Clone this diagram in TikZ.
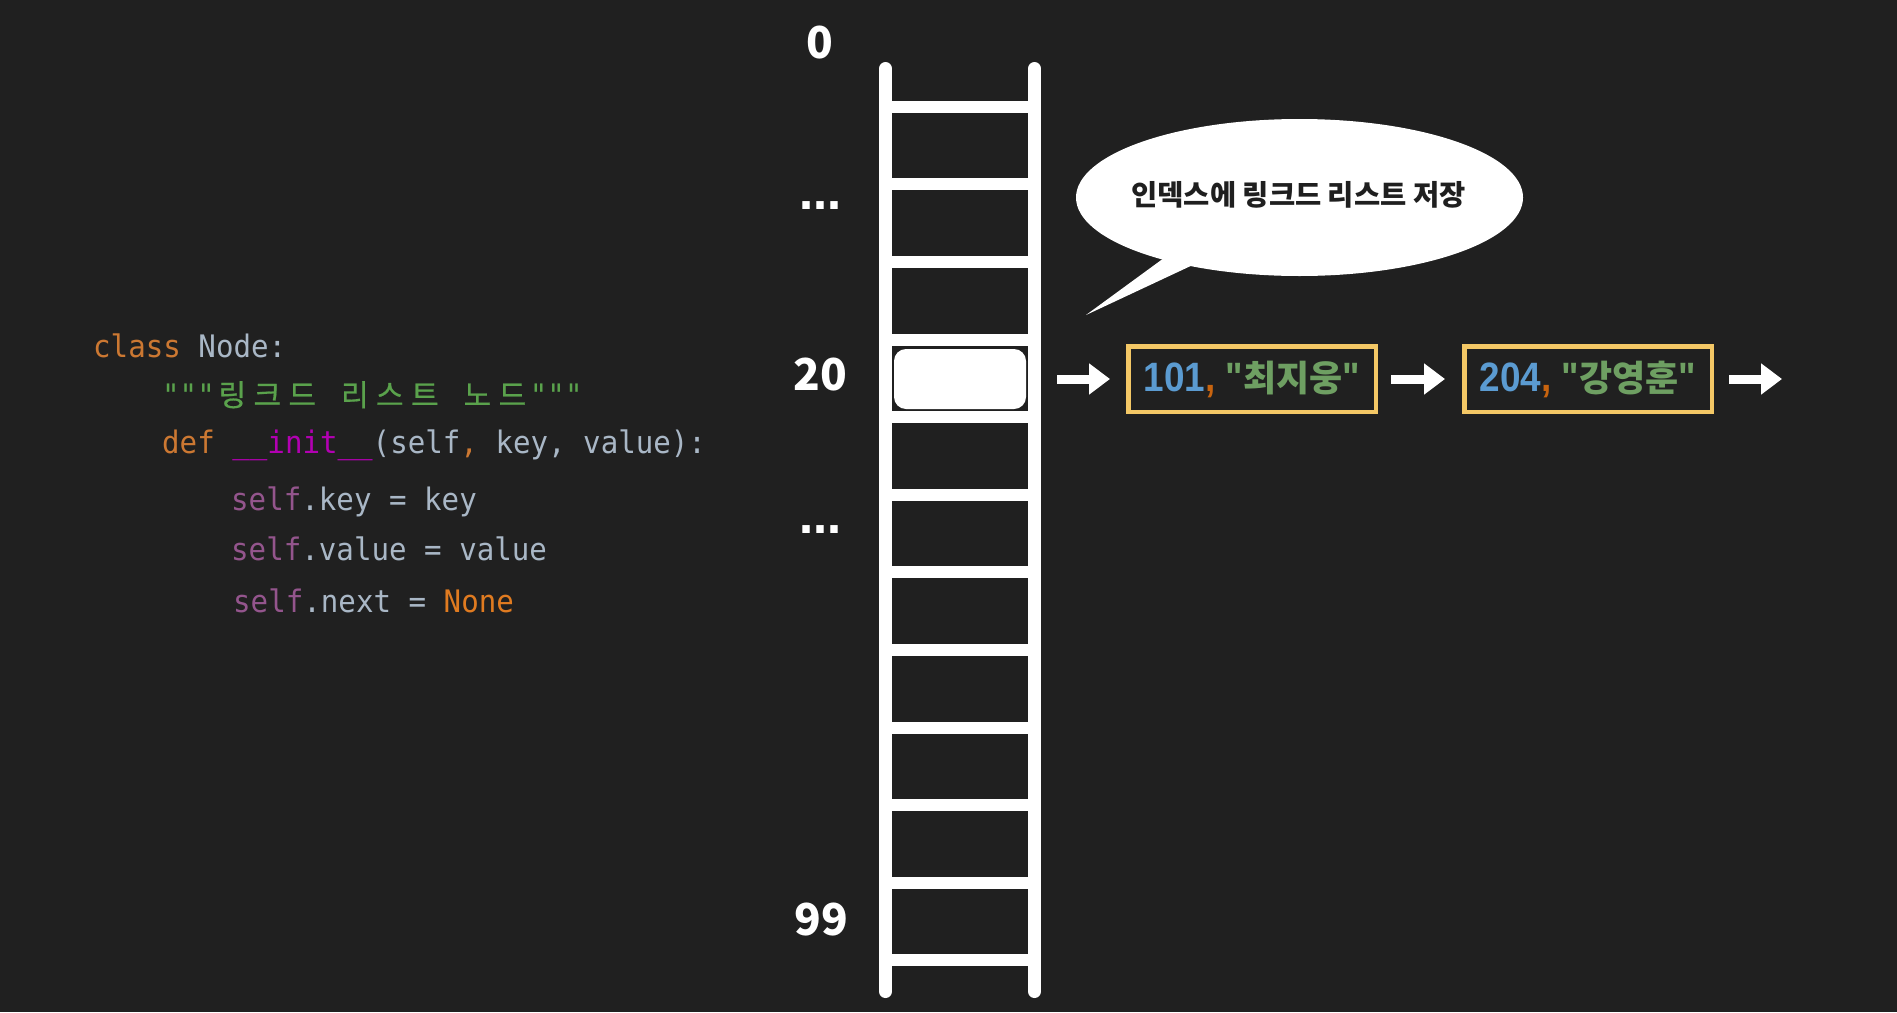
\documentclass[tikz,border=0pt]{standalone}
\usepackage{fontspec}
\usetikzlibrary{arrows.meta,shapes.geometric}
\newfontfamily\codefont[FakeStretch=0.94]{DejaVu Sans Mono}
\newfontfamily\krfont{Noto Sans CJK KR}
\newfontfamily\krcode[FakeBold=0.6]{Noto Sans CJK KR}
\newfontfamily\dotfont{DejaVu Sans}
\newfontfamily\boxfont[FakeStretch=0.9]{Liberation Sans}
\definecolor{bg}{HTML}{202020}
\definecolor{kw}{HTML}{CC7832}
\definecolor{ctx}{HTML}{A9B7C6}
\definecolor{cstr}{HTML}{5AA24C}
\definecolor{cfn}{HTML}{B200B2}
\definecolor{cself}{HTML}{94558D}
\definecolor{cnone}{HTML}{E07B20}
\definecolor{bnum}{HTML}{5B9BD1}
\definecolor{bcom}{HTML}{C8640F}
\definecolor{bstr}{HTML}{6E9F62}
\definecolor{boxy}{HTML}{F4C866}
\newcommand\kc[1]{\makebox[35pt][c]{\krcode\fontsize{30}{31}\selectfont #1}}
\newcommand\boxtxt[2]{{\boxfont\bfseries\fontsize{41}{44}\selectfont\color{bnum}#1\color{bcom},\ \color{bstr}"{\krfont\bfseries\fontsize{36}{40}\selectfont #2}"}}
\begin{document}
\begin{tikzpicture}[x=1pt,y=-1pt,
  code/.style={font={\codefont\fontsize{31}{34}\selectfont}, inner sep=0pt, text=ctx, anchor=base west},
  lbl/.style={font={\krfont\bfseries\fontsize{44}{48}\selectfont}, text=white, inner sep=0pt},
  dots/.style={font={\dotfont\bfseries\fontsize{42}{48}\selectfont}, text=white, inner sep=0pt},
  rail/.style={white, line width=13pt, line cap=round},
  rung/.style={white, line width=12pt},
  cellhl/.style={fill=white, rounded corners=12pt, minimum width=132pt, minimum height=60pt, inner sep=0pt},
  itembox/.style={draw=boxy, line width=4.5pt, minimum width=247.5pt, minimum height=65.5pt, inner sep=0pt},
  bigarrow/.style={white, line width=9pt, -{Triangle[length=21pt,width=30pt]}},
  bubble/.style={ellipse, fill=white, minimum width=447pt, minimum height=157pt, inner sep=0pt},
  bubtext/.style={font={\krfont\bfseries\fontsize{28.5}{30}\selectfont}, text=black!88, inner sep=0pt}
]
\fill[bg] (0,0) rectangle (1897,1012);
\useasboundingbox (0,0) rectangle (1897,1012);

% code
\node[code] (l1) at (93,357) {{\color{kw}class} Node:};
\node[code] (l2) at (162,406) {{\color{cstr}"""\kc{링}\kc{크}\kc{드} \kc{리}\kc{스}\kc{트} \kc{노}\kc{드}"""}};
\node[code] (l3) at (162,453) {{\color{kw}def} {\color{cfn}\_\_init\_\_}(self{\color{kw},} key, value):};
\node[code] (l4) at (231,510) {{\color{cself}self}.key = key};
\node[code] (l5) at (231,560) {{\color{cself}self}.value = value};
\node[code] (l6) at (233,612) {{\color{cself}self}.next = {\color{cnone}None}};

% ladder
\draw[rail] (885.5,68.5) -- (885.5,991.5);
\draw[rail] (1034.5,68.5) -- (1034.5,991.5);
\foreach \i in {0,...,11}
  \draw[rung] (885.5,{106.7+77.6*\i}) -- (1034.5,{106.7+77.6*\i});
\node[cellhl] (c20) at (960,379) {};

% index labels
\node[lbl] (i0) at (820,43) {0};
\node[dots] (d1) at (820,206) {…};
\node[lbl] (i20) at (820,375) {20};
\node[dots] (d2) at (820,530) {…};
\node[lbl] (i99) at (821,920) {99};

% speech bubble
\node[bubble] (bub) at (1299.5,197.5) {};
\coordinate (tip) at (1086,315);
\fill[white] ([shift={(-128,55)}]bub.center) -- (tip) -- ([shift={(-95,62)}]bub.center) -- cycle;
\node[bubtext] (bubt) at (1298.5,195) {인덱스에 링크드 리스트 저장};

% linked list
\node[itembox] (b1) at (1252,379) {\boxtxt{101}{최지웅}};
\node[itembox] (b2) at (1588,379) {\boxtxt{204}{강영훈}};
\coordinate (endp) at (1782,379);
\draw[bigarrow] ([xshift=31pt]c20.east) -- ([xshift=-16pt]b1.west);
\draw[bigarrow] ([xshift=13pt]b1.east) -- ([xshift=-17pt]b2.west);
\draw[bigarrow] ([xshift=15pt]b2.east) -- (endp);
\end{tikzpicture}
\end{document}
